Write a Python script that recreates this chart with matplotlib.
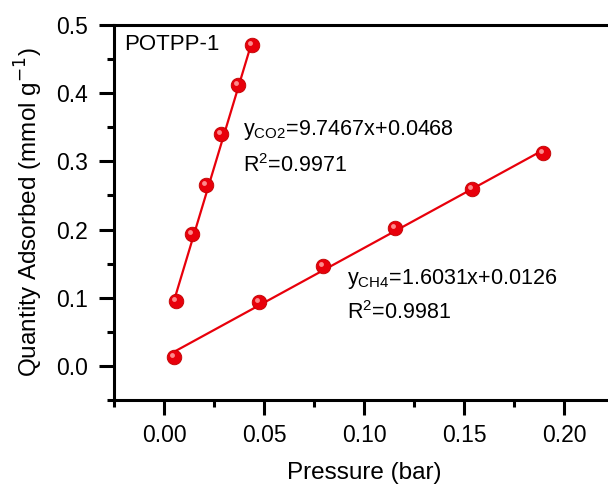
import matplotlib
matplotlib.use("Agg")
import matplotlib.pyplot as plt
import matplotlib.transforms as mtransforms
from matplotlib.ticker import MultipleLocator
import numpy as np

plt.rcParams['font.family'] = ['Liberation Sans', 'DejaVu Sans']

# Adsorption data
p_co2 = [0.006, 0.014, 0.021, 0.0285, 0.037, 0.044]
q_co2 = [0.095, 0.193, 0.265, 0.340, 0.412, 0.470]
p_ch4 = [0.005, 0.0475, 0.0795, 0.1155, 0.154, 0.1895]
q_ch4 = [0.013, 0.094, 0.147, 0.203, 0.260, 0.312]

# Linear fits (slope, intercept, R^2)
fit_co2 = (9.7467, 0.0468, 0.9971)
fit_ch4 = (1.6031, 0.0126, 0.9981)

W, H = 608, 488
fig = plt.figure(figsize=(W / 100, H / 100), dpi=100)
ax = fig.add_axes([114 / W, 1 - 400 / H, (614 - 114) / W, (400 - 25) / H])

red = '#e8000b'

for p, q, (a, b, _) in [(p_co2, q_co2, fit_co2), (p_ch4, q_ch4, fit_ch4)]:
    xs = np.array([min(p), max(p)])
    ax.plot(xs, a * xs + b, color=red, lw=1.6, zorder=2)
    ax.plot(p, q, 'o', ms=10.5, mfc=red, mec='#c00000', mew=0.6, zorder=3)
    shift = mtransforms.ScaledTranslation(-2 / 100, 2 / 100, fig.dpi_scale_trans)
    ax.plot(p, q, 'o', ms=3.5, mfc='#ff9a9a', mec='none', alpha=0.9,
            transform=ax.transData + shift, zorder=4)

ax.set_xlim(-0.025, 0.225)
ax.set_ylim(-0.05, 0.5)
ax.xaxis.set_minor_locator(MultipleLocator(0.025))
ax.yaxis.set_minor_locator(MultipleLocator(0.05))
ax.set_xticks([0.0, 0.05, 0.10, 0.15, 0.20])
ax.set_xticklabels(['0.00', '0.05', '0.10', '0.15', '0.20'])
ax.set_yticks([0.0, 0.1, 0.2, 0.3, 0.4, 0.5])
ax.set_yticklabels(['0.0', '0.1', '0.2', '0.3', '0.4', '0.5'])

for s in ax.spines.values():
    s.set_linewidth(2.2)
ax.tick_params(which='major', direction='out', length=11, width=2.2,
               labelsize=16.5, top=False, right=False)
ax.tick_params(which='minor', direction='out', length=5, width=2.2,
               top=False, right=False)
ax.tick_params(axis='x', which='major', pad=6)
ax.tick_params(axis='y', which='major', pad=8)

ax.set_xlabel('Pressure (bar)', fontsize=17.5, labelpad=11)
ax.set_ylabel('Quantity Adsorbed (mmol g$^{-1}$)', fontsize=17.5, labelpad=8)

ax.text(0.02, 0.947, 'POTPP-1', transform=ax.transAxes, fontsize=16, va='center')

ax.text(0.0395, 0.3456, r'y$_{\mathregular{CO2}}$=%.4fx+%.4f' % fit_co2[:2],
        fontsize=15.5, va='center')
ax.text(0.0395, 0.294, r'R$^{\mathregular{2}}$=%.4f' % fit_co2[2],
        fontsize=15.5, va='center')
ax.text(0.0915, 0.128, r'y$_{\mathregular{CH4}}$=%.4fx+%.4f' % fit_ch4[:2],
        fontsize=15.5, va='center')
ax.text(0.0915, 0.078, r'R$^{\mathregular{2}}$=%.4f' % fit_ch4[2],
        fontsize=15.5, va='center')

fig.savefig('out.png', dpi=100)
